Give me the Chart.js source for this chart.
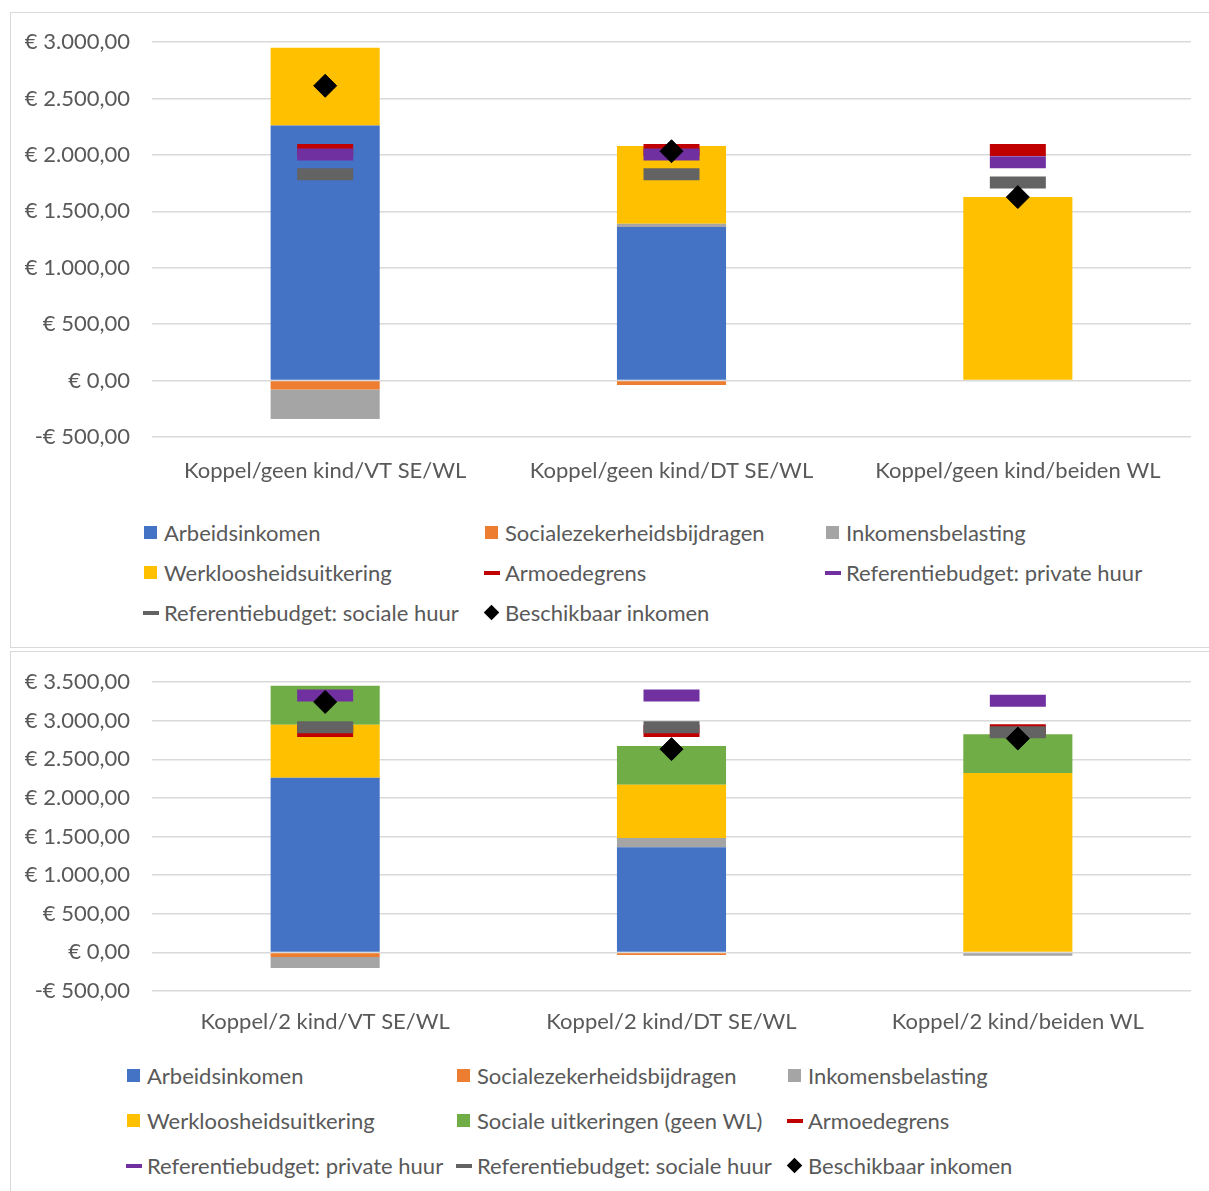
<!DOCTYPE html>
<html>
<head>
<meta charset="utf-8">
<script src="https://cdn.jsdelivr.net/npm/chart.js@4.4.0/dist/chart.umd.min.js"></script>
<style>
  body { margin: 0; background: #fff; font-family: Lato, sans-serif; color: #595959; }
  .box { position: absolute; left: 10px; width: 1205px; border: 1px solid #d9d9d9; background: #fff; overflow: hidden; }
  #box1 { top: 12px; height: 634px; }
  #box2 { top: 651px; height: 560px; }
  canvas { position: absolute; left: 0; }
  #grafiek1 { top: -11px; }
  #grafiek2 { top: -10px; }
  .item { position: absolute; display: flex; align-items: center; height: 26px; font-size: 22px; white-space: nowrap; }
  .merk { width: 15px; height: 15px; margin-right: 6px; position: relative; flex: none; }
  .merk span { position: absolute; }
</style>
</head>
<body>
<div class="box" id="box1"><canvas id="grafiek1" width="1220" height="495"></canvas></div>
<div class="box" id="box2"><canvas id="grafiek2" width="1220" height="404"></canvas></div>
<script>
// Kleuren
const kleuren = {
  arbeid: '#4472C4',
  sz: '#ED7D31',
  belasting: '#A5A5A5',
  wl: '#FFC000',
  sociaal: '#70AD47',
  armoede: '#C00000',
  privaat: '#7030A0',
  socialeHuur: '#636363',
  beschikbaar: '#000000'
};

// Grafiek 1: koppel zonder kinderen
const categorieen1 = ['Koppel/geen kind/VT SE/WL', 'Koppel/geen kind/DT SE/WL', 'Koppel/geen kind/beiden WL'];
const arbeid1 = [2260, 1360, 0];
const szBijdragen1 = [-80, -40, 0];
const belasting1 = [-260, 30, 0];
const wlUitkering1 = [688, 688, 1626];
const armoede1 = [2044, 2044, 2044];
const refPrivaat1 = [2003, 2003, 1935];
const refSociaal1 = [1828, 1828, 1754];
const beschikbaar1 = [2612, 2032, 1626];
const ticks1 = { min: -500, max: 3000, stap: 500 };

// Grafiek 2: koppel met 2 kinderen
const categorieen2 = ['Koppel/2 kind/VT SE/WL', 'Koppel/2 kind/DT SE/WL', 'Koppel/2 kind/beiden WL'];
const arbeid2 = [2260, 1360, 0];
const szBijdragen2 = [-60, -35, 0];
const belasting2 = [-142, 121, -45];
const wlUitkering2 = [688, 688, 2321];
const socUitkering2 = [503, 503, 503];
const armoede2 = [2867, 2867, 2876];
const refPrivaat2 = [3326, 3326, 3258];
const refSociaal2 = [2915, 2915, 2850];
const beschikbaar2 = [3242, 2631, 2768];
const ticks2 = { min: -500, max: 3500, stap: 500 };

function euro(v) {
  const deel = Math.round(Math.abs(v)).toString().replace(/\B(?=(\d{3})+(?!\d))/g, '.');
  return (v < 0 ? '-€ ' : '€ ') + deel + ',00';
}

function balk(label, data, kleur) {
  return { type: 'bar', label: label, data: data, backgroundColor: kleur, borderWidth: 0,
           barPercentage: 0.315, categoryPercentage: 1, stack: 'balken', order: 0 };
}

function streep(label, data, kleur, volgorde) {
  return { type: 'line', label: label, data: data, showLine: false, pointStyle: 'line',
           pointRadius: 28, pointHoverRadius: 28, pointBorderWidth: 12, pointHoverBorderWidth: 12,
           pointBorderColor: kleur, pointBackgroundColor: kleur, borderColor: kleur,
           backgroundColor: kleur, stack: label, order: volgorde };
}

function ruit(label, data) {
  return { type: 'line', label: label, data: data, showLine: false, pointStyle: 'rectRot',
           pointRadius: 11.5, pointHoverRadius: 11.5, pointBorderWidth: 1,
           pointBorderColor: '#000', pointBackgroundColor: '#000', borderColor: '#000',
           backgroundColor: '#000', stack: label, order: -4 };
}

function opties(t, xHoogte, xPadding) {
  return {
    responsive: false,
    animation: false,
    layout: { padding: { top: 0, right: 19, left: 0, bottom: 0 } },
    plugins: { legend: { display: false }, tooltip: { enabled: false } },
    scales: {
      x: {
        stacked: true,
        grid: { display: false, drawTicks: false },
        border: { display: false },
        ticks: { color: '#595959', font: { family: 'Lato', size: 22 }, padding: xPadding, maxRotation: 0 },
        afterFit: function(scale) { scale.height = xHoogte; }
      },
      y: {
        stacked: true,
        min: t.min,
        max: t.max,
        grid: { color: '#d9d9d9', lineWidth: 1.5, drawTicks: false },
        border: { display: false },
        ticks: { stepSize: t.stap, color: '#595959', font: { family: 'Lato', size: 22 }, padding: 22,
                 callback: function(value) { return euro(value); } },
        afterFit: function(scale) { scale.width = 141; }
      }
    }
  };
}

function legenda(chart, box, kolommen, rijen) {
  chart.data.datasets.forEach(function(ds, i) {
    const item = document.createElement('div');
    item.className = 'item';
    item.style.left = (kolommen[i % 3] - 21) + 'px';
    item.style.top = (rijen[Math.floor(i / 3)] - 13) + 'px';
    const merk = document.createElement('div');
    merk.className = 'merk';
    const vorm = document.createElement('span');
    const kleur = ds.type === 'bar' ? ds.backgroundColor : ds.pointBackgroundColor;
    vorm.style.background = kleur;
    if (ds.type === 'bar') {
      vorm.style.cssText += 'left:1px;top:1px;width:13px;height:13px;';
    } else if (ds.pointStyle === 'line') {
      vorm.style.cssText += 'left:0;top:6px;width:16px;height:4px;';
    } else {
      vorm.style.cssText += 'left:2px;top:2px;width:11px;height:11px;transform:rotate(45deg);';
    }
    merk.appendChild(vorm);
    const tekst = document.createElement('span');
    tekst.textContent = ds.label;
    item.appendChild(merk);
    item.appendChild(tekst);
    box.appendChild(item);
  });
}

const grafiek1 = new Chart(document.getElementById('grafiek1'), {
  data: {
    labels: categorieen1,
    datasets: [
      balk('Arbeidsinkomen', arbeid1, kleuren.arbeid),
      balk('Socialezekerheidsbijdragen', szBijdragen1, kleuren.sz),
      balk('Inkomensbelasting', belasting1, kleuren.belasting),
      balk('Werkloosheidsuitkering', wlUitkering1, kleuren.wl),
      streep('Armoedegrens', armoede1, kleuren.armoede, -1),
      streep('Referentiebudget: private huur', refPrivaat1, kleuren.privaat, -2),
      streep('Referentiebudget: sociale huur', refSociaal1, kleuren.socialeHuur, -3),
      ruit('Beschikbaar inkomen', beschikbaar1)
    ]
  },
  options: opties(ticks1, 60, 21)
});

const grafiek2 = new Chart(document.getElementById('grafiek2'), {
  data: {
    labels: categorieen2,
    datasets: [
      balk('Arbeidsinkomen', arbeid2, kleuren.arbeid),
      balk('Socialezekerheidsbijdragen', szBijdragen2, kleuren.sz),
      balk('Inkomensbelasting', belasting2, kleuren.belasting),
      balk('Werkloosheidsuitkering', wlUitkering2, kleuren.wl),
      balk('Sociale uitkeringen (geen WL)', socUitkering2, kleuren.sociaal),
      streep('Armoedegrens', armoede2, kleuren.armoede, -1),
      streep('Referentiebudget: private huur', refPrivaat2, kleuren.privaat, -2),
      streep('Referentiebudget: sociale huur', refSociaal2, kleuren.socialeHuur, -3),
      ruit('Beschikbaar inkomen', beschikbaar2)
    ]
  },
  options: opties(ticks2, 55, 18)
});

legenda(grafiek1, document.getElementById('box1'), [153, 494, 835], [519, 559, 599]);
legenda(grafiek2, document.getElementById('box2'), [136, 466, 797], [423, 468, 513]);
</script>
</body>
</html>
